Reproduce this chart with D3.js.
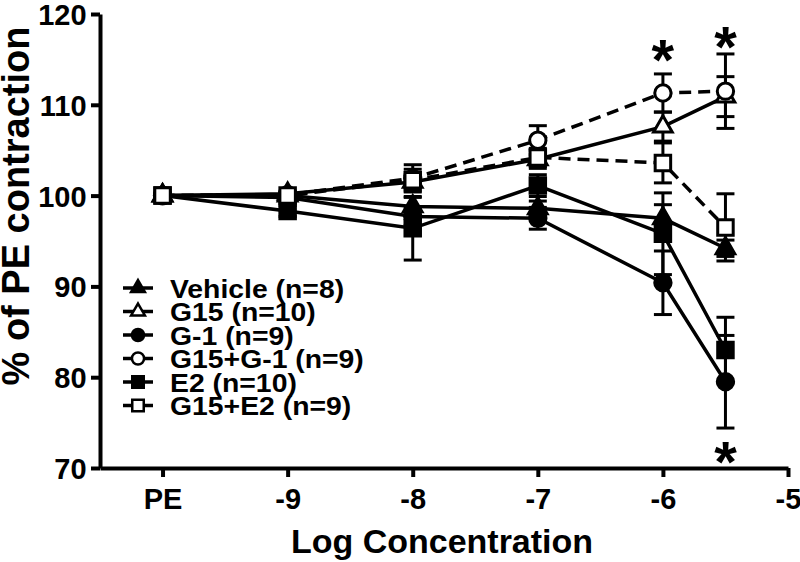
<!DOCTYPE html>
<html>
<head>
<meta charset="utf-8">
<script src="https://cdn.jsdelivr.net/npm/d3@7"></script>
<style>
  body { margin: 0; background: #fff; }
  svg text { font-family: "Liberation Sans", Arial, sans-serif; font-weight: bold; fill: #000; }
  .axis path, .axis line { stroke: #000; stroke-width: 4px; }
</style>
</head>
<body>
<div class="chart"></div>
<script>
// concentrations (PE plotted at -10)
var concs = [-10, -9, -8, -7, -6, -5.5];
var xTicks = [-10, -9, -8, -7, -6, -5];
var xTickLabels = ["PE", "-9", "-8", "-7", "-6", "-5"];
var yTicks = [70, 80, 90, 100, 110, 120];

var seriesNames = ["Vehicle (n=8)", "G15 (n=10)", "G-1 (n=9)", "G15+G-1 (n=9)", "E2 (n=10)", "G15+E2 (n=9)"];
var vehicle    = [100, 100.0, 98.8, 98.6, 97.5, 94.2];
var vehicleErr = [0, 0.3, 1.0, 0.8, 1.5, 0.9];
var g15        = [100, 100.2, 101.5, 104.0, 107.6, 110.9];
var g15Err     = [0, 0.3, 0.8, 1.0, 1.6, 2.2];
var g1         = [100, 99.8, 97.7, 97.5, 90.4, 79.5];
var g1Err      = [0, 0.3, 1.0, 1.2, 3.5, 5.1];
var g15g1      = [100, 100.1, 101.9, 106.1, 111.3, 111.5];
var g15g1Err   = [0, 0.3, 1.5, 1.6, 2.1, 4.1];
var e2         = [100, 98.3, 96.4, 101.1, 95.8, 83.0];
var e2Err      = [0, 0.6, 3.5, 1.2, 4.5, 3.6];
var g15e2      = [100, 100.0, 101.7, 104.2, 103.6, 96.5];
var g15e2Err   = [0, 0.3, 1.2, 1.0, 2.2, 3.7];

// significance stars: [conc, value]
var stars = [[-6, 115.9], [-5.5, 117.4], [-5.5, 71.6]];

var ww = 800, hh = 562
  , margin = {top: 14, right: 12, bottom: 94, left: 100}
  , width = ww - margin.left - margin.right
  , height = hh - margin.top - margin.bottom;

var x = d3.scaleLinear().domain([-10.5, -5]).range([0, width])
  , y = d3.scaleLinear().domain([70, 120]).range([height, 0]);

var svgm = d3.select('.chart').append('svg').attr('width', ww).attr('height', hh);
var svg = svgm.append('g').attr('transform', `translate(${margin.left},${margin.top})`);

var series = [
  {name: seriesNames[0], v: vehicle, e: vehicleErr, sym: d3.symbolTriangle, fill: '#000', dash: null, size: 150},
  {name: seriesNames[1], v: g15, e: g15Err, sym: d3.symbolTriangle, fill: '#fff', dash: null, size: 150},
  {name: seriesNames[2], v: g1, e: g1Err, sym: d3.symbolCircle, fill: '#000', dash: null, size: 210},
  {name: seriesNames[3], v: g15g1, e: g15g1Err, sym: d3.symbolCircle, fill: '#fff', dash: '12,7', size: 210},
  {name: seriesNames[4], v: e2, e: e2Err, sym: d3.symbolSquare, fill: '#000', dash: null, size: 240},
  {name: seriesNames[5], v: g15e2, e: g15e2Err, sym: d3.symbolSquare, fill: '#fff', dash: '12,7', size: 240}
];

// axes
var xAxis = d3.axisBottom(x).tickValues(xTicks).tickFormat((d, i) => xTickLabels[i]).tickSize(9).tickSizeOuter(0)
  , yAxis = d3.axisLeft(y).tickValues(yTicks).tickSize(9).tickSizeOuter(0);

var gx = svg.append('g').attr('class', 'axis').attr('transform', `translate(0,${height})`).call(xAxis);
gx.selectAll('text').attr('font-size', 29).attr('dy', '1.0em');
var gy = svg.append('g').attr('class', 'axis').call(yAxis);
gy.selectAll('text').attr('font-size', 29).attr('dx', '-0.05em').attr('dy', '0.36em');

svg.append('text').attr('x', width / 2 - 2).attr('y', height + 85)
  .attr('text-anchor', 'middle').attr('font-size', 34).text('Log Concentration');
svg.append('text').attr('transform', `translate(${-71},${192}) rotate(-90)`)
  .attr('text-anchor', 'middle').attr('font-size', 38).text('% of PE contraction');

// lines
var line = d3.line().x(d => x(d[0])).y(d => y(d[1]));
series.forEach(function(s) {
  svg.append('path').datum(concs.map((c, i) => [c, s.v[i]]))
    .attr('d', line).attr('fill', 'none').attr('stroke', '#000')
    .attr('stroke-width', 3.5).attr('stroke-dasharray', s.dash);
});

// error bars
series.forEach(function(s) {
  var g = svg.append('g').attr('stroke', '#000').attr('stroke-width', 3);
  concs.forEach(function(c, i) {
    if (!s.e[i]) return;
    var cx = x(c), y0 = y(s.v[i] - s.e[i]), y1 = y(s.v[i] + s.e[i]);
    g.append('line').attr('x1', cx).attr('x2', cx).attr('y1', y0).attr('y2', y1);
    g.append('line').attr('x1', cx - 9).attr('x2', cx + 9).attr('y1', y0).attr('y2', y0);
    g.append('line').attr('x1', cx - 9).attr('x2', cx + 9).attr('y1', y1).attr('y2', y1);
  });
});

// markers
series.forEach(function(s) {
  svg.selectAll(null).data(concs.map((c, i) => [c, s.v[i]])).enter()
    .append('path')
    .attr('d', d3.symbol().type(s.sym).size(s.size))
    .attr('transform', d => `translate(${x(d[0])},${y(d[1])})`)
    .attr('fill', s.fill).attr('stroke', '#000').attr('stroke-width', 3);
});

// stars
svg.selectAll('.star').data(stars).enter().append('text')
  .attr('class', 'star').attr('text-anchor', 'middle').attr('font-size', 58)
  .attr('x', d => x(d[0])).attr('y', d => y(d[1]) + 29).text('*');

// legend
var legend = svg.append('g').attr('transform', 'translate(23,274)');
series.forEach(function(s, i) {
  var gy0 = i * 23.5;
  legend.append('line').attr('x1', 0).attr('x2', 30).attr('y1', gy0).attr('y2', gy0)
    .attr('stroke', '#000').attr('stroke-width', 3.5);
  legend.append('path').attr('d', d3.symbol().type(s.sym).size(s.size * 0.55))
    .attr('transform', `translate(15,${gy0})`)
    .attr('fill', s.fill).attr('stroke', '#000').attr('stroke-width', 2.5);
  legend.append('text').attr('transform', `translate(47,${gy0}) scale(1.07,1)`).attr('dy', '0.36em')
    .attr('font-size', 26.5).text(s.name);
});
</script>
</body>
</html>
